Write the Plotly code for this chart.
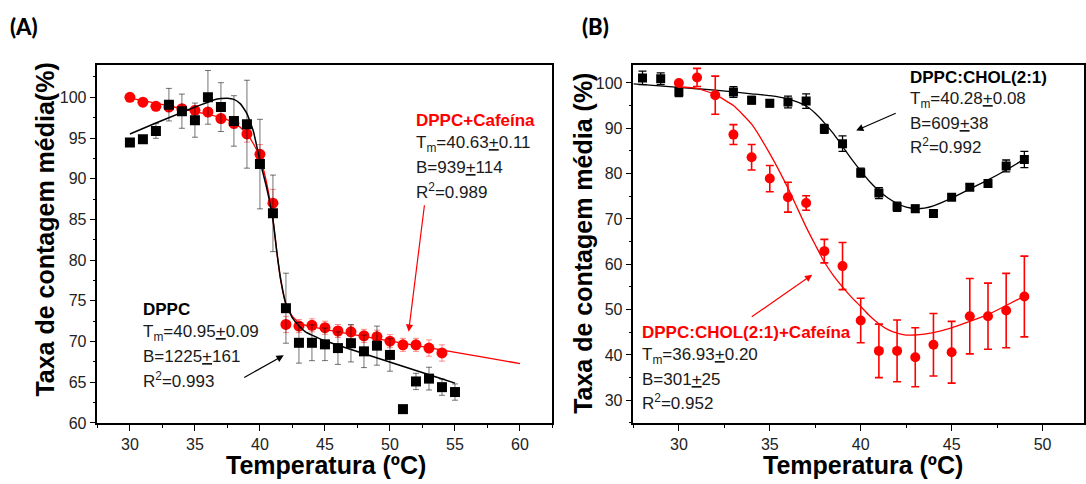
import plotly.graph_objects as go

# ---------------- Panel A data ----------------
tA_dppc = list(range(30, 56))
dppc = [94.45, 94.86, 95.87, 99.1, 98.3, 97.2, 100.0, 98.8, 97.1, 96.7, 91.8, 85.75, 74.1,
        69.85, 69.85, 69.66, 69.2, 69.8, 68.8, 69.5, 68.36, 61.7, 65.1, 65.45, 64.4, 63.8]
dppc_err = [0.3, 0.3, 0.9, 2.0, 2.1, 2.1, 3.3, 3.0, 3.1, 5.4, 5.5, 4.7, 4.3,
            2.5, 2.2, 2.0, 2.0, 2.3, 2.0, 2.4, 2.0, 0.0, 1.0, 1.4, 1.0, 1.0]

tA_caf = list(range(30, 55))
dppc_caf = [100.0, 99.4, 98.9, 98.8, 98.6, 98.4, 98.2, 97.4, 96.8, 95.5, 93.0, 87.0, 72.1,
            71.9, 72.0, 71.7, 71.3, 71.2, 70.7, 70.6, 70.05, 69.6, 69.6, 69.2, 68.6]
dppc_caf_err = [0.2, 0.3, 0.3, 0.5, 0.5, 0.4, 0.4, 0.5, 0.6, 1.0, 1.2, 1.7, 1.0,
                0.8, 0.8, 0.8, 0.8, 0.8, 0.8, 0.8, 0.8, 0.8, 0.8, 1.0, 1.0]

# fitted curves
fitA_dppc_t = [30, 32, 34, 35, 36, 36.5, 37, 37.5, 38, 38.5, 39, 39.5, 40, 40.5, 41, 41.3,
               41.6, 42, 42.5, 43, 43.5, 44, 45, 55]
fitA_dppc_v = [95.5, 96.85, 98.15, 98.8, 99.4, 99.7, 99.85, 99.9, 99.75, 99.2, 98.0, 95.8,
               92.2, 89.0, 85.0, 81.0, 77.6, 74.6, 72.9, 71.9, 71.2, 70.8, 70.1, 64.9]
fitA_caf_t = [30, 32, 34, 36, 37, 38, 38.5, 39, 39.5, 40, 40.5, 41, 41.3, 41.6, 42, 42.5,
              43, 44, 60]
fitA_caf_v = [99.9, 99.3, 98.6, 97.9, 97.5, 96.9, 96.3, 95.5, 94.3, 92.6, 89.6, 85.0, 81.0,
              77.5, 74.6, 73.1, 72.3, 71.8, 67.3]

# ---------------- Panel B data ----------------
tB_chol = [28, 29, 30, 33, 34, 35, 36, 37, 38, 39, 40, 41, 42, 43, 44, 45, 46, 47, 48, 49]
chol = [101.1, 100.9, 98.0, 98.0, 96.2, 95.5, 95.8, 96.0, 89.85, 86.6, 80.2, 75.7, 72.7,
        72.25, 71.2, 74.8, 77.0, 77.8, 81.7, 83.1]
chol_err = [1.5, 1.3, 1.0, 1.2, 0.8, 0.8, 1.3, 1.6, 1.0, 1.7, 1.0, 1.2, 1.0, 0.8, 0.5, 0.5,
            0.7, 0.8, 1.3, 1.8]

tB_caf = list(range(30, 50))
chol_caf = [100.0, 101.2, 97.3, 88.6, 83.6, 78.9, 74.8, 73.5, 62.9, 59.6, 47.6, 40.9, 40.9,
            39.5, 42.25, 40.6, 48.55, 48.55, 49.8, 52.9]
chol_caf_err = [0.3, 2.0, 4.2, 2.2, 2.8, 2.9, 3.3, 1.6, 2.6, 5.2, 4.9, 5.9, 6.8, 6.5, 6.9,
                6.8, 8.3, 7.3, 8.2, 8.9]

fitB_chol_t = [27.5, 30, 32, 34, 35, 36, 36.5, 37, 37.5, 38, 38.5, 39, 39.5, 40, 40.5, 41,
               41.5, 42, 42.5, 43, 43.5, 44, 45, 46, 47, 48, 49]
fitB_chol_v = [99.8, 99.0, 98.4, 97.6, 97.2, 96.5, 95.8, 94.9, 93.3, 91.2, 88.8, 86.0, 83.2,
               80.6, 78.2, 76.2, 74.6, 73.4, 72.6, 72.3, 72.4, 72.9, 74.6, 76.6, 78.6, 80.8, 83.2]
fitB_caf_t = [30, 31, 32, 33, 34, 35, 36, 36.5, 37, 37.5, 38, 38.5, 39, 39.5, 40, 40.5, 41,
              41.5, 42, 42.5, 43, 43.5, 44, 45, 46, 47, 48, 49]
fitB_caf_v = [99.1, 98.8, 97.4, 95.0, 90.9, 84.4, 76.8, 72.5, 68.2, 64.3, 60.5, 57.5, 55.0,
              52.7, 50.7, 48.6, 46.9, 45.6, 44.8, 44.4, 44.4, 44.6, 44.95, 46.0, 47.4, 48.9,
              50.9, 53.0]

W, H = 1086, 484
def px(x):
    return x / W
def py(y):
    return 1 - y / H

RED = "#ff0000"
TXT = "#1a1a1a"
FONT = "Liberation Sans, Arial, sans-serif"

fig = go.Figure()

# Panel A traces
fig.add_trace(go.Scatter(x=tA_caf, y=dppc_caf, mode="markers",
                         marker=dict(symbol="circle", size=11, color=RED),
                         error_y=dict(type="data", array=dppc_caf_err, color="rgba(255,0,0,0.45)",
                                      thickness=1, width=3),
                         xaxis="x", yaxis="y", showlegend=False))
fig.add_trace(go.Scatter(x=fitA_caf_t, y=fitA_caf_v, mode="lines",
                         line=dict(color=RED, width=1.3, shape="spline", smoothing=0.4),
                         xaxis="x", yaxis="y", showlegend=False))
fig.add_trace(go.Scatter(x=tA_dppc, y=dppc, mode="markers",
                         marker=dict(symbol="square", size=10, color="black"),
                         error_y=dict(type="data", array=dppc_err, color="rgba(0,0,0,0.55)",
                                      thickness=1, width=3),
                         xaxis="x", yaxis="y", showlegend=False))
fig.add_trace(go.Scatter(x=fitA_dppc_t, y=fitA_dppc_v, mode="lines",
                         line=dict(color="black", width=1.5, shape="spline", smoothing=0.4),
                         xaxis="x", yaxis="y", showlegend=False))

# Panel B traces
fig.add_trace(go.Scatter(x=tB_chol, y=chol, mode="markers",
                         marker=dict(symbol="square", size=9, color="black"),
                         error_y=dict(type="data", array=chol_err, color="black",
                                      thickness=1.3, width=4),
                         xaxis="x2", yaxis="y2", showlegend=False))
fig.add_trace(go.Scatter(x=fitB_chol_t, y=fitB_chol_v, mode="lines",
                         line=dict(color="black", width=1.3, shape="spline", smoothing=0.5),
                         xaxis="x2", yaxis="y2", showlegend=False))
fig.add_trace(go.Scatter(x=tB_caf, y=chol_caf, mode="markers",
                         marker=dict(symbol="circle", size=10, color=RED),
                         error_y=dict(type="data", array=chol_caf_err, color=RED,
                                      thickness=1.6, width=4),
                         xaxis="x2", yaxis="y2", showlegend=False))
fig.add_trace(go.Scatter(x=fitB_caf_t, y=fitB_caf_v, mode="lines",
                         line=dict(color=RED, width=1.3, shape="spline", smoothing=0.5),
                         xaxis="x2", yaxis="y2", showlegend=False))

axis_common = dict(showline=True, linecolor="black", linewidth=1.5, mirror=True,
                   ticks="outside", ticklen=6, tickwidth=1, tickcolor="black",
                   showgrid=False, zeroline=False,
                   tickfont=dict(family=FONT, size=16, color="#222"))

fig.update_layout(
    width=W, height=H,
    margin=dict(l=0, r=0, t=0, b=0),
    paper_bgcolor="white", plot_bgcolor="white",
    xaxis=dict(domain=[px(97.5), px(553)], range=[27.5, 62.5], dtick=5, tick0=30,
               minor=dict(dtick=2.5, ticks="outside", ticklen=3, tickcolor="black"),
               anchor="y", **axis_common),
    yaxis=dict(domain=[py(431), py(66)], range=[60, 104], dtick=5, tick0=60,
               minor=dict(dtick=2.5, ticks="outside", ticklen=3, tickcolor="black"),
               anchor="x", **axis_common),
    xaxis2=dict(domain=[px(634), px(1085)], range=[27.5, 52.28], dtick=5, tick0=30,
                minor=dict(dtick=2.5, ticks="outside", ticklen=3, tickcolor="black"),
                anchor="y2", **axis_common),
    yaxis2=dict(domain=[py(431), py(66)], range=[25, 104], dtick=10, tick0=30,
                minor=dict(dtick=5, ticks="outside", ticklen=3, tickcolor="black"),
                anchor="x2", **axis_common),
)

ann = []
def text(x, y, s, color=TXT, bold=False, size=17, xanchor="left", family=FONT, angle=0,
         weight=None):
    w = weight if weight is not None else ("bold" if bold else "normal")
    ann.append(dict(x=px(x), y=py(y), xref="paper", yref="paper", text=s, showarrow=False,
                    xanchor=xanchor, yanchor="middle", textangle=angle,
                    font=dict(family=family, size=size, color=color, weight=w)))

# panel labels
text(8, 27, "(A)", color="black", size=22, family="Lato, sans-serif", weight=900)
text(581, 27, "(B)", color="black", size=22, family="Lato, sans-serif", weight=900)

# axis titles
text(45, 234, "Taxa de contagem média(%)", color="black", bold=True, size=25,
     xanchor="center", angle=-90)
text(584, 248, "Taxa de contagem média (%)", color="black", bold=True, size=25,
     xanchor="center", angle=-90)
text(326, 474, "Temperatura (ºC)", color="black", bold=True, size=25, xanchor="center")
text(864, 474, "Temperatura (ºC)", color="black", bold=True, size=25, xanchor="center")

# Panel A labels
text(414, 123, "DPPC+Cafeína", color=RED, bold=True)
text(414, 147, "T<sub>m</sub>=40.63<u>+</u>0.11")
text(414, 171, "B=939<u>+</u>114")
text(414, 195, "R<sup>2</sup>=0.989")

text(141, 315, "DPPC", color="black", bold=True)
text(141, 339, "T<sub>m</sub>=40.95<u>+</u>0.09")
text(141, 363, "B=1225<u>+</u>161")
text(141, 387, "R<sup>2</sup>=0.993")

# Panel B labels
text(909, 79, "DPPC:CHOL(2:1)", color="black", bold=True)
text(909, 102, "T<sub>m</sub>=40.28<u>+</u>0.08")
text(909, 126, "B=609<u>+</u>38")
text(909, 149, "R<sup>2</sup>=0.992")

text(641, 339, "DPPC:CHOL(2:1)+Cafeína", color=RED, bold=True)
text(641, 363, "T<sub>m</sub>=36.93<u>+</u>0.20")
text(641, 387, "B=301<u>+</u>25")
text(641, 410, "R<sup>2</sup>=0.952")

def arrow(hx, hy, tx, ty, color):
    ann.append(dict(x=px(hx), y=py(hy), xref="paper", yref="paper", text="",
                    showarrow=True, ax=tx - hx, ay=ty - hy, axref="pixel", ayref="pixel",
                    arrowhead=2, arrowsize=1.2, arrowwidth=1.2, arrowcolor=color))

arrow(409, 338, 425, 210, RED)
arrow(284, 362, 243, 385, "black")
arrow(857, 133, 898, 115, "black")
arrow(813, 280, 751, 323, RED)

fig.update_layout(annotations=ann)

fig.write_html("out.html")
